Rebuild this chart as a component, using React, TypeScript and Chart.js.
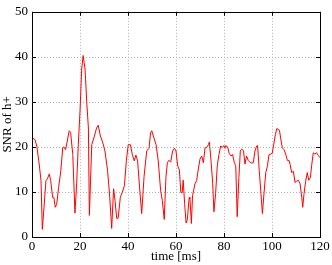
import React, { useEffect, useRef } from "react";
import { Chart, registerables } from "chart.js";

Chart.register(...registerables);

const timeMs = [
  0, 1.25, 2, 3, 3.75, 4.3, 5, 5.8, 6.4, 7.2, 7.8, 8.6, 9.1, 9.7, 10.3, 11.1, 12, 12.8, 13.3, 14, 14.7, 15.5, 16.1, 17, 17.9,
  18.6, 19.3, 20, 20.7, 21.3, 22.1, 22.8, 23.5, 23.9, 24.9, 26, 26.9, 27.6, 28.5, 29.3, 30.4, 31.5, 32.4, 33.2, 34, 34.6,
  35.3, 35.9, 36.8, 37.6, 38.5, 39.3, 40.1, 41, 41.8, 42.6, 43.3, 44, 45, 45.7, 46.7, 47.8, 48.75, 49.4, 49.9, 50.8, 51.7,
  52.6, 53.6, 54.3, 55.1, 55.8, 56.4, 56.9, 57.8, 58.6, 59.4, 60, 60.7, 61.4, 62, 62.6, 63, 63.6, 64.2, 64.7, 65.5, 65.8,
  66.4, 66.9, 67.9, 68.6, 69.3, 70, 70.7, 71.4, 72.1, 72.8, 73.5, 73.9, 74.6, 75.3, 75.8, 76.5, 77.2, 77.9, 78.6, 79.3,
  79.9, 80.4, 80.7, 81.5, 82.2, 82.9, 83.6, 84.3, 84.9, 85.5, 86.2, 86.8, 87.4, 88.1, 88.75, 89.4, 90.1, 90.8, 91.5, 92.2,
  92.9, 93.6, 94, 94.7, 95.4, 96, 96.7, 97.4, 98.1, 98.75, 99.4, 100.1, 100.7, 101.4, 102, 102.5, 103.1, 103.6, 104.3,
  105, 105.7, 106.4, 107.1, 107.5, 108.2, 108.9, 109.6, 110.3, 111, 111.7, 112.4, 112.8, 113.3, 114, 114.7, 115.3, 116,
  116.5, 117.2, 117.9, 118.6, 119.3, 120,
];

const snr = [
  22.1, 21.6, 20.2, 16.2, 12.5, 1.7, 6.6, 12.5, 12.9, 14, 12.5, 8.8, 8.8, 6.6, 7.3, 11, 14.7, 19.8, 20, 19.4, 21.3, 23.6,
  23.2, 18.3, 5.3, 11.8, 20.6, 27.9, 37.3, 40.3, 37.3, 30, 24.2, 4.8, 20.5, 22.4, 24.2, 24.8, 22.4, 21.3, 19.1, 14.7, 8.8,
  1.9, 10.7, 8.1, 4.1, 4.2, 8.8, 9.9, 11.4, 16.9, 20.5, 20.5, 18.3, 16.9, 18.2, 16.9, 9.8, 5.2, 13.5, 19.1, 19.7, 23.1,
  23.6, 22, 20.5, 16.9, 10.3, 8.1, 3.9, 13.2, 16.5, 17, 16.7, 19.1, 19.7, 19.1, 15.8, 14.9, 9.9, 9.9, 12.6, 7.4, 3.1, 3.8,
  8.8, 8.5, 3, 9.2, 11.8, 12.5, 15.1, 17.3, 18, 16.5, 19.8, 19.9, 20.5, 21.1, 16.9, 11.8, 5.6, 9.6, 15.8, 18.3, 20.2,
  19.9, 20.3, 19.7, 20.3, 20, 18.5, 18, 18.3, 16.5, 15.8, 4.5, 13.2, 19.1, 19.5, 19.2, 16.2, 18, 17, 16.6, 16.4, 16.5,
  19.1, 20.2, 20.3, 14.7, 9.6, 5.2, 9.9, 14.3, 15.8, 18.3, 18.4, 18.6, 20.5, 22.7, 24.1, 23.9, 23.7, 22, 19.8, 19.4, 18.4,
  17, 17, 16.2, 14.3, 14.6, 12.1, 12.4, 12.6, 11.8, 8.8, 6.6, 9.4, 12.3, 14.3, 12.6, 13.2, 15.8, 18.7, 18.4, 18.7, 18.1,
  17.6,
];

const xTicks = [0, 20, 40, 60, 80, 100, 120];
const yTicks = [0, 10, 20, 30, 40, 50];
const xTitle = "time [ms]";
const yTitle = "SNR of h+";

const framePlugin = {
  id: "frameTicks",
  beforeDatasetsDraw(chart: any) {
    const { ctx, chartArea } = chart;
    const { left, right, top, bottom } = chartArea;
    const xs = chart.scales.x;
    const ys = chart.scales.y;
    ctx.save();
    ctx.strokeStyle = "#b0b0b0";
    ctx.lineWidth = 1;
    ctx.setLineDash([1, 2]);
    ctx.beginPath();
    for (const v of xTicks.slice(1, -1)) {
      const px = Math.round(xs.getPixelForValue(v)) + 0.5;
      ctx.moveTo(px, top);
      ctx.lineTo(px, bottom);
    }
    for (const v of yTicks.slice(1, -1)) {
      const py = Math.round(ys.getPixelForValue(v)) + 0.5;
      ctx.moveTo(left, py);
      ctx.lineTo(right, py);
    }
    ctx.stroke();
    ctx.restore();
  },
  afterDatasetsDraw(chart: any) {
    const { ctx, chartArea } = chart;
    const { left, right, top, bottom } = chartArea;
    const xs = chart.scales.x;
    const ys = chart.scales.y;
    ctx.save();
    ctx.strokeStyle = "#000";
    ctx.lineWidth = 1;
    ctx.beginPath();
    const L = 4;
    for (const v of xTicks) {
      const px = Math.round(xs.getPixelForValue(v)) + 0.5;
      ctx.moveTo(px, bottom);
      ctx.lineTo(px, bottom - L);
      ctx.moveTo(px, top);
      ctx.lineTo(px, top + L);
    }
    for (const v of yTicks) {
      const py = Math.round(ys.getPixelForValue(v)) + 0.5;
      ctx.moveTo(left, py);
      ctx.lineTo(left + L, py);
      ctx.moveTo(right, py);
      ctx.lineTo(right - L, py);
    }
    ctx.stroke();
    ctx.strokeRect(Math.round(left) + 0.5, Math.round(top) + 0.5, Math.round(right - left), Math.round(bottom - top));
    ctx.restore();
  },
};

export default function App() {
  const ref = useRef<HTMLCanvasElement | null>(null);
  useEffect(() => {
    if (!ref.current) return;
    const tickFont = { family: "'Liberation Serif', 'Times New Roman', serif", size: 13 };
    const titleFont = { family: "'Liberation Serif', 'Times New Roman', serif", size: 13 };
    const chart = new Chart(ref.current, {
      type: "line",
      data: {
        datasets: [
          {
            data: timeMs.map((t, i) => ({ x: t, y: snr[i] })),
            borderColor: "#ff0000",
            borderWidth: 1,
            pointRadius: 0,
            tension: 0,
            fill: false,
          },
        ],
      },
      options: {
        responsive: false,
        animation: false,
        devicePixelRatio: 1,
        layout: { padding: { left: 0, top: 9, right: 12, bottom: 0 } },
        plugins: { legend: { display: false }, tooltip: { enabled: false } },
        scales: {
          x: {
            type: "linear",
            min: 0,
            max: 120,
            afterBuildTicks: (s: any) => {
              s.ticks = xTicks.map((v) => ({ value: v }));
            },
            afterFit: (s: any) => {
              s.height = 28;
            },
            ticks: { color: "#000", font: tickFont, padding: 2, maxRotation: 0, autoSkip: false },
            grid: { display: false, drawTicks: false },
            border: { display: false },
            title: { display: true, text: xTitle, color: "#000", font: titleFont, padding: { top: 0, bottom: 1 } },
          },
          y: {
            type: "linear",
            min: 0,
            max: 50,
            afterBuildTicks: (s: any) => {
              s.ticks = yTicks.map((v) => ({ value: v }));
            },
            afterFit: (s: any) => {
              s.width = 32;
            },
            ticks: { color: "#000", font: tickFont, padding: 4, autoSkip: false },
            grid: { display: false, drawTicks: false },
            border: { display: false },
            title: { display: true, text: yTitle, color: "#000", font: titleFont, padding: { top: 0, bottom: 2 } },
          },
        },
      },
      plugins: [framePlugin],
    } as any);
    return () => chart.destroy();
  }, []);
  return (
    <div style={{ position: "absolute", left: 0, top: 0, width: 332, height: 265, background: "#fff" }}>
      <canvas ref={ref} width={332} height={265} style={{ width: 332, height: 265 }} />
    </div>
  );
}
